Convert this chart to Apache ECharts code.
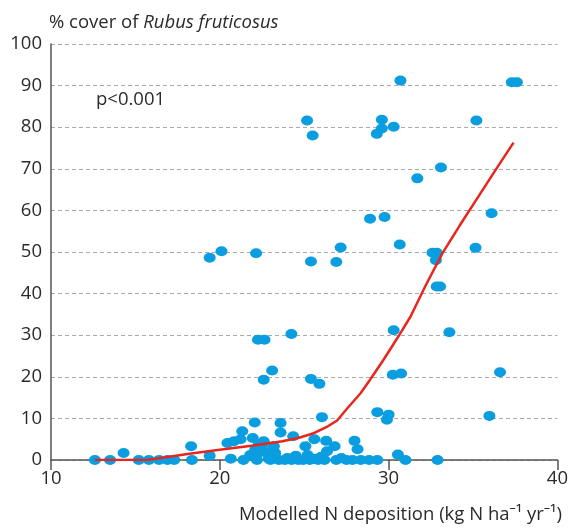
<!DOCTYPE html>
<html>
<head>
<meta charset="utf-8">
<script src="https://cdn.jsdelivr.net/npm/echarts@6/dist/echarts.min.js"></script>
<style>
html,body{margin:0;padding:0;background:#fff;}
#chart{width:571px;height:528px;}
</style>
</head>
<body>
<div id="chart"></div>
<script>
// Observed points: N deposition (x) and % cover (y)
var pointX = [12.6,13.5,14.3,15.2,15.8,16.4,16.9,17.3,18.3,18.35,19.4,
  19.4,20.1,20.45,20.84,20.65,21.23,21.33,21.4,21.8,21.95,22.07,22.1,22.2,22.2,22.15,22.3,22.26,22.65,22.5,22.6,22.6,22.8,22.9,23.0,
  23.1,23.2,23.28,23.5,23.6,23.6,23.85,24.0,24.24,24.25,24.35,24.5,24.65,24.94,25.07,25.17,25.2,25.33,25.4,25.4,25.5,25.6,25.6,25.82,
  25.9,26.0,26.05,26.2,26.3,26.35,26.8,26.9,26.9,27.16,27.2,27.5,27.86,27.98,28.16,28.35,28.84,28.9,29.3,29.33,29.33,29.6,29.6,29.76,
  29.9,30.0,30.25,30.3,30.3,30.55,30.66,30.7,30.74,31.0,31.7,32.6,32.85,32.8,32.85,33.05,32.9,33.1,33.6,35.15,35.2,35.97,36.1,36.6,37.3,37.6];
var pointY = [0,0,1.7,0,0,0,0,0,3.3,0,1.0,
  48.6,50.2,4.1,4.5,0.3,5.0,6.9,0,1.2,5.3,9.0,2.5,0,1.3,49.7,3.7,28.9,28.9,3.3,4.5,19.3,1.7,0.3,0,
  21.5,3.3,1.7,0,8.9,6.6,0,0.5,30.3,0,5.7,1.0,0,0,3.3,81.6,1.2,0,47.7,19.5,78.0,5.0,0.3,0,
  18.3,0.8,10.3,0,4.6,2.1,3.3,0,47.6,51.1,0.5,0,0,4.6,2.6,0,0,58.0,78.4,0,11.5,81.8,79.7,58.4,
  9.7,10.9,20.5,80.1,31.2,1.3,51.8,91.2,20.8,0,67.7,49.8,49.8,48.0,41.7,41.7,0,70.3,30.7,51.0,81.6,10.6,59.3,21.1,90.8,90.8];

// Fitted (smoothed) curve
var fitX = [12.6,14,15.7,17,18.2,20.1,22,23.7,24.65,25.6,26.4,26.95,27.57,28.35,28.9,29.7,30.5,31.3,32.2,33.2,34.2,35.2,36.3,37.4];
var fitY = [0,0,0,0.8,1.5,2.5,3.5,4.5,5.3,6.5,8.1,9.5,12.5,16.1,19.3,24.1,29.2,34.5,42,49.8,56.3,62.6,69.5,76.3];

var xTicks = [10,20,30,40];
var yTicks = [0,10,20,30,40,50,60,70,80,90,100];

var titleText = '% cover of ';
var titleItalic = 'Rubus fruticosus';
var xName = 'Modelled N deposition (kg N ha\u207B\u00B9 yr\u207B\u00B9)';
var pText = 'p<0.001';

var FONT = '"Open Sans", "Noto Sans", sans-serif';

var scatterData = pointX.map(function(x,i){return [x, pointY[i]];});
var fitData = fitX.map(function(x,i){return [x, fitY[i]];});

var chart = echarts.init(document.getElementById('chart'), null, {renderer:'canvas'});
chart.setOption({
  animation:false,
  grid:{left:51, right:9, top:44, bottom:68, containLabel:false},
  xAxis:{
    type:'value', min:10, max:40, interval:10,
    axisLine:{show:true, lineStyle:{color:'#555', width:1.5}},
    axisTick:{show:true, length:10, lineStyle:{color:'#555', width:1.5}},
    axisLabel:{color:'#2a2a2a', fontSize:18.5, fontFamily:FONT, margin:9,
      formatter:function(v){return xTicks.indexOf(v)>=0 ? String(v) : '';}},
    splitLine:{show:false}
  },
  yAxis:{
    type:'value', min:0, max:100, interval:10,
    axisLine:{show:true, onZero:false, lineStyle:{color:'#555', width:1.5}},
    axisTick:{show:false},
    axisLabel:{color:'#2a2a2a', fontSize:18.5, fontFamily:FONT, margin:9,
      formatter:function(v){return yTicks.indexOf(v)>=0 ? String(v) : '';}},
    splitLine:{show:true, lineStyle:{color:'#aaa', type:[4,3], width:1}}
  },
  graphic:[
    {type:'text', left:49, top:13, style:{
      text:'{n|'+titleText+'}{i|'+titleItalic+'}',
      rich:{n:{fontSize:18.5, fontFamily:FONT, fill:'#2a2a2a'}, i:{fontSize:18.5, fontFamily:FONT, fontStyle:'italic', fill:'#2a2a2a'}}
    }},
    {type:'text', left:96, top:90, style:{text:pText, fontSize:18.5, fontFamily:FONT, fill:'#2a2a2a'}},
    {type:'text', right:9, top:505, style:{text:xName, fontSize:18.5, fontFamily:FONT, fill:'#2a2a2a'}}
  ],
  series:[
    {type:'scatter', data:scatterData, symbol:'circle', symbolSize:[12,10],
      itemStyle:{color:'#0a9ee0', opacity:1}, z:2},
    {type:'line', data:fitData, smooth:false, showSymbol:false, symbol:'none',
      lineStyle:{color:'#e8261e', width:2.5}, z:3}
  ]
});
</script>
</body>
</html>
